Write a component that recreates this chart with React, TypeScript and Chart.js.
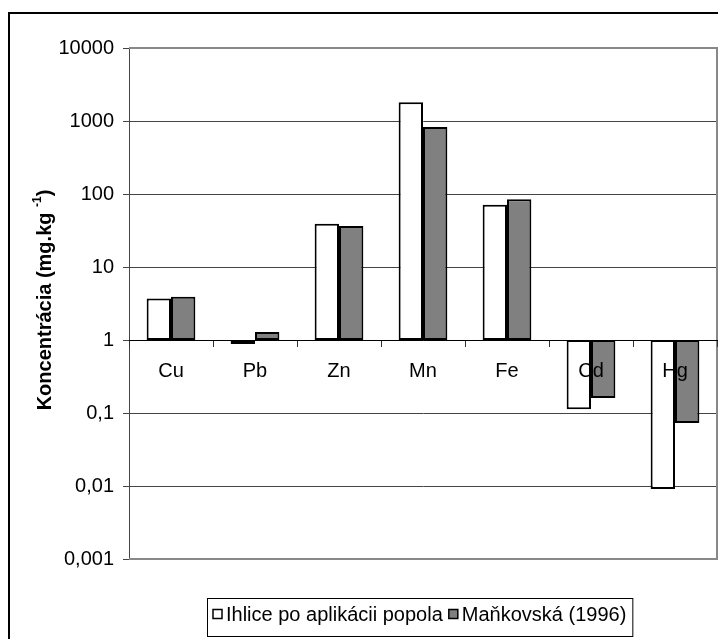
import React, { useEffect, useRef } from 'react';
import { Chart, registerables } from 'chart.js';

Chart.register(...registerables);

const categories = ['Cu', 'Pb', 'Zn', 'Mn', 'Fe', 'Cd', 'Hg'];
const ihliceValues = [3.7, 0.88, 39, 1800, 71, 0.113, 0.0091];
const mankovskaValues = [3.9, 1.29, 36.5, 830, 85, 0.16, 0.073];
const yTicks = [0.001, 0.01, 0.1, 1, 10, 100, 1000, 10000];
const seriesNames = ['Ihlice po aplikácii popola', 'Maňkovská (1996)'];
const yTitleMain = 'Koncentrácia (mg.kg ';
const yTitleSup = '-1';
const yTitleEnd = ')';
const baseValue = 1;

const FONT = "'Liberation Sans', Arial, sans-serif";
const seriesColors = ['#ffffff', '#808080'];

function formatTick(v: number): string {
  if (v >= 1) return String(Math.round(v));
  return String(v).replace('.', ',');
}

const decorPlugin = {
  id: 'decor',
  beforeDatasetsDraw(chart: any) {
    const { ctx, chartArea } = chart;
    ctx.save();
    ctx.strokeStyle = '#888888';
    ctx.lineWidth = 2;
    ctx.beginPath();
    ctx.moveTo(chartArea.left, chartArea.top);
    ctx.lineTo(chartArea.right, chartArea.top);
    ctx.lineTo(chartArea.right, chartArea.bottom);
    ctx.lineTo(chartArea.left, chartArea.bottom);
    ctx.stroke();
    ctx.restore();
  },
  afterDraw(chart: any) {
    const { ctx } = chart;
    ctx.save();
    // outer border
    ctx.strokeStyle = '#000';
    ctx.lineWidth = 2;
    ctx.beginPath();
    ctx.moveTo(1, chart.height + 10);
    ctx.lineTo(1, 5);
    ctx.lineTo(chart.width + 10, 5);
    ctx.stroke();

    // y title
    ctx.translate(37, 292);
    ctx.rotate(-Math.PI / 2);
    ctx.fillStyle = '#000';
    ctx.textBaseline = 'middle';
    ctx.textAlign = 'left';
    const mainFont = `bold 20px ${FONT}`;
    const supFont = `bold 12px ${FONT}`;
    ctx.font = mainFont;
    const w1 = ctx.measureText(yTitleMain).width;
    const w3 = ctx.measureText(yTitleEnd).width;
    ctx.font = supFont;
    const w2 = ctx.measureText(yTitleSup).width;
    const total = w1 + w2 + w3;
    let x = -total / 2;
    ctx.font = mainFont;
    ctx.fillText(yTitleMain, x, 0);
    x += w1;
    ctx.font = supFont;
    ctx.fillText(yTitleSup, x, -7);
    x += w2;
    ctx.font = mainFont;
    ctx.fillText(yTitleEnd, x, 0);
    ctx.restore();

    // legend
    ctx.save();
    ctx.font = `20px ${FONT}`;
    ctx.textBaseline = 'middle';
    ctx.textAlign = 'left';
    const boxLeft = 199;
    const boxTop = 590;
    const boxH = 38;
    const cy = boxTop + 16;
    const sq = 9;
    let lx = boxLeft + 6;
    const items: { sx: number; tx: number; label: string; color: string }[] = [];
    seriesNames.forEach((name, i) => {
      const sx = lx;
      const tx = sx + sq + 4;
      const tw = ctx.measureText(name).width;
      items.push({ sx, tx, label: name, color: seriesColors[i] });
      lx = tx + tw + 6;
    });
    const boxRight = lx;
    ctx.strokeStyle = '#000';
    ctx.lineWidth = 1;
    ctx.strokeRect(boxLeft + 0.5, boxTop + 0.5, boxRight - boxLeft, boxH);
    items.forEach((it) => {
      ctx.fillStyle = it.color;
      ctx.fillRect(it.sx, cy - sq / 2, sq, sq);
      ctx.strokeStyle = '#000';
      ctx.lineWidth = 1.5;
      ctx.strokeRect(it.sx, cy - sq / 2, sq, sq);
      ctx.fillStyle = '#000';
      ctx.fillText(it.label, it.tx, cy + 1);
    });
    ctx.restore();
  },
};

export default function App() {
  const canvasRef = useRef<HTMLCanvasElement | null>(null);

  useEffect(() => {
    document.body.style.overflow = 'hidden';
    const canvas = canvasRef.current;
    if (!canvas) return;
    const chart = new Chart(canvas, {
      type: 'bar',
      data: {
        labels: categories,
        datasets: [
          {
            label: seriesNames[0],
            data: ihliceValues.map((v) => [baseValue, v]) as any,
            backgroundColor: seriesColors[0],
            borderColor: '#000',
            borderWidth: 2,
            borderSkipped: false,
            categoryPercentage: 0.58,
            barPercentage: 1,
          },
          {
            label: seriesNames[1],
            data: mankovskaValues.map((v) => [baseValue, v]) as any,
            backgroundColor: seriesColors[1],
            borderColor: '#000',
            borderWidth: 2,
            borderSkipped: false,
            categoryPercentage: 0.58,
            barPercentage: 1,
          },
        ],
      },
      options: {
        animation: false,
        responsive: false,
        maintainAspectRatio: false,
        layout: { padding: { top: 40, right: 9, bottom: 80, left: 0 } },
        plugins: {
          legend: { display: false },
          tooltip: { enabled: false },
          title: { display: false },
        },
        scales: {
          x: {
            type: 'category',
            position: { y: 1 } as any,
            offset: true,
            grid: {
              display: true,
              drawOnChartArea: false,
              drawTicks: true,
              tickLength: 6,
              color: '#333',
              offset: true,
              z: 1,
            } as any,
            border: { display: true, color: '#000', width: 1, z: 1 } as any,
            ticks: {
              color: '#000',
              font: { family: FONT, size: 20 },
              padding: 13,
              maxRotation: 0,
              autoSkip: false,
              z: 1,
            } as any,
          },
          y: {
            type: 'logarithmic',
            min: 0.001,
            max: 10000,
            afterFit: (scale: any) => {
              scale.width = 121;
            },
            afterBuildTicks: (scale: any) => {
              scale.ticks = yTicks.map((v) => ({ value: v }));
            },
            grid: {
              color: '#444',
              lineWidth: 1,
              drawTicks: true,
              tickLength: 6,
            },
            border: { display: true, color: '#444', width: 1 },
            ticks: {
              color: '#000',
              font: { family: FONT, size: 20 },
              padding: 9,
              autoSkip: false,
              callback: (v: any) => formatTick(Number(v)),
            },
          },
        },
      },
      plugins: [decorPlugin],
    });
    return () => chart.destroy();
  }, []);

  return (
    <div style={{ width: 718, height: 631 }}>
      <canvas ref={canvasRef} width={718} height={631} style={{ display: 'block' }} />
    </div>
  );
}
